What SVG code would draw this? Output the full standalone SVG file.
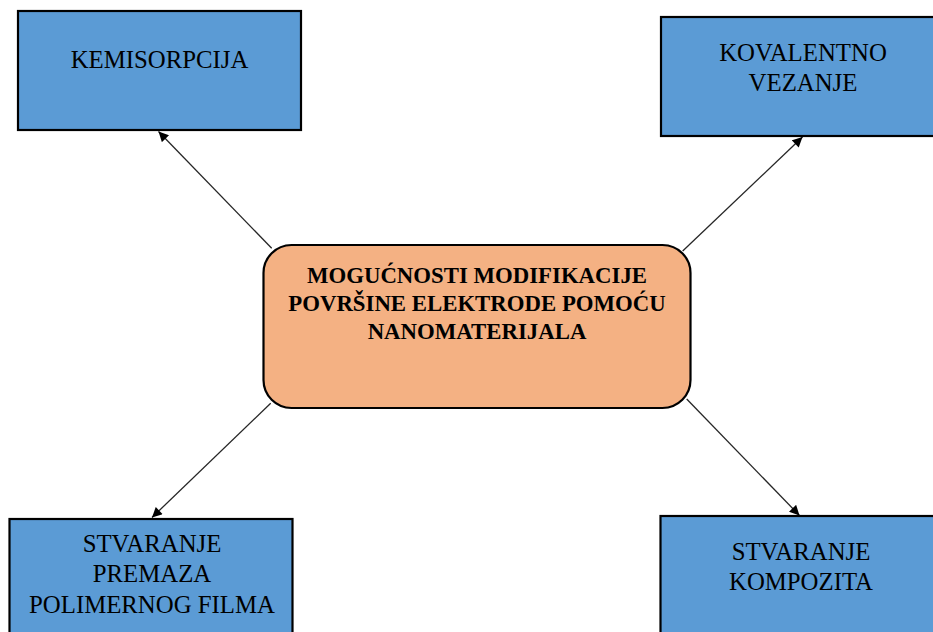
<svg xmlns="http://www.w3.org/2000/svg" width="933" height="632" viewBox="0 0 933 632">
<defs>
<style>
.box{fill:#5B9BD5;stroke:#000;stroke-width:2.2}
.center{fill:#F4B183;stroke:#000;stroke-width:2.2}
.t{font-family:"Liberation Serif","Times New Roman",serif;font-size:24.8px;fill:#000;text-anchor:middle}
.tb{font-family:"Liberation Serif","Times New Roman",serif;font-size:22.8px;font-weight:bold;fill:#000;text-anchor:middle}
.conn{stroke:#262626;stroke-width:1.3;fill:none;marker-end:url(#arr)}
</style>
<marker id="arr" viewBox="0 0 10 10" refX="10" refY="5" markerWidth="11" markerHeight="10" markerUnits="userSpaceOnUse" orient="auto">
<path d="M0,0 L10,5 L0,10 z" fill="#000"/>
</marker>
</defs>
<rect width="933" height="632" fill="#fff"/>
<g id="connectors">
<line class="conn" x1="271.7" y1="248.3" x2="158.5" y2="131.5"/>
<line class="conn" x1="682.7" y1="251" x2="802.5" y2="137"/>
<line class="conn" x1="270.7" y1="403.3" x2="152" y2="517.5"/>
<line class="conn" x1="686.7" y1="399" x2="799.5" y2="515.5"/>
</g>
<g id="kemisorpcija">
<rect class="box" x="18" y="11" width="283" height="119"/>
<text class="t" x="159.5" y="68">KEMISORPCIJA</text>
</g>
<g id="kovalentno">
<rect class="box" x="661" y="17" width="290" height="119"/>
<text class="t" x="803" y="61">KOVALENTNO</text>
<text class="t" x="803" y="91">VEZANJE</text>
</g>
<g id="center">
<rect class="center" x="263.5" y="245" width="427" height="163" rx="28" ry="28"/>
<text class="tb" x="477" y="283">MOGUĆNOSTI MODIFIKACIJE</text>
<text class="tb" x="477" y="311">POVRŠINE ELEKTRODE POMOĆU</text>
<text class="tb" x="477" y="338.5">NANOMATERIJALA</text>
</g>
<g id="polimer">
<rect class="box" x="9.5" y="519" width="283" height="130"/>
<text class="t" x="152" y="552">STVARANJE</text>
<text class="t" x="152" y="582">PREMAZA</text>
<text class="t" x="152" y="613">POLIMERNOG FILMA</text>
</g>
<g id="kompozit">
<rect class="box" x="660.5" y="516" width="290" height="130"/>
<text class="t" x="801" y="560">STVARANJE</text>
<text class="t" x="801" y="589.5">KOMPOZITA</text>
</g>
</svg>
